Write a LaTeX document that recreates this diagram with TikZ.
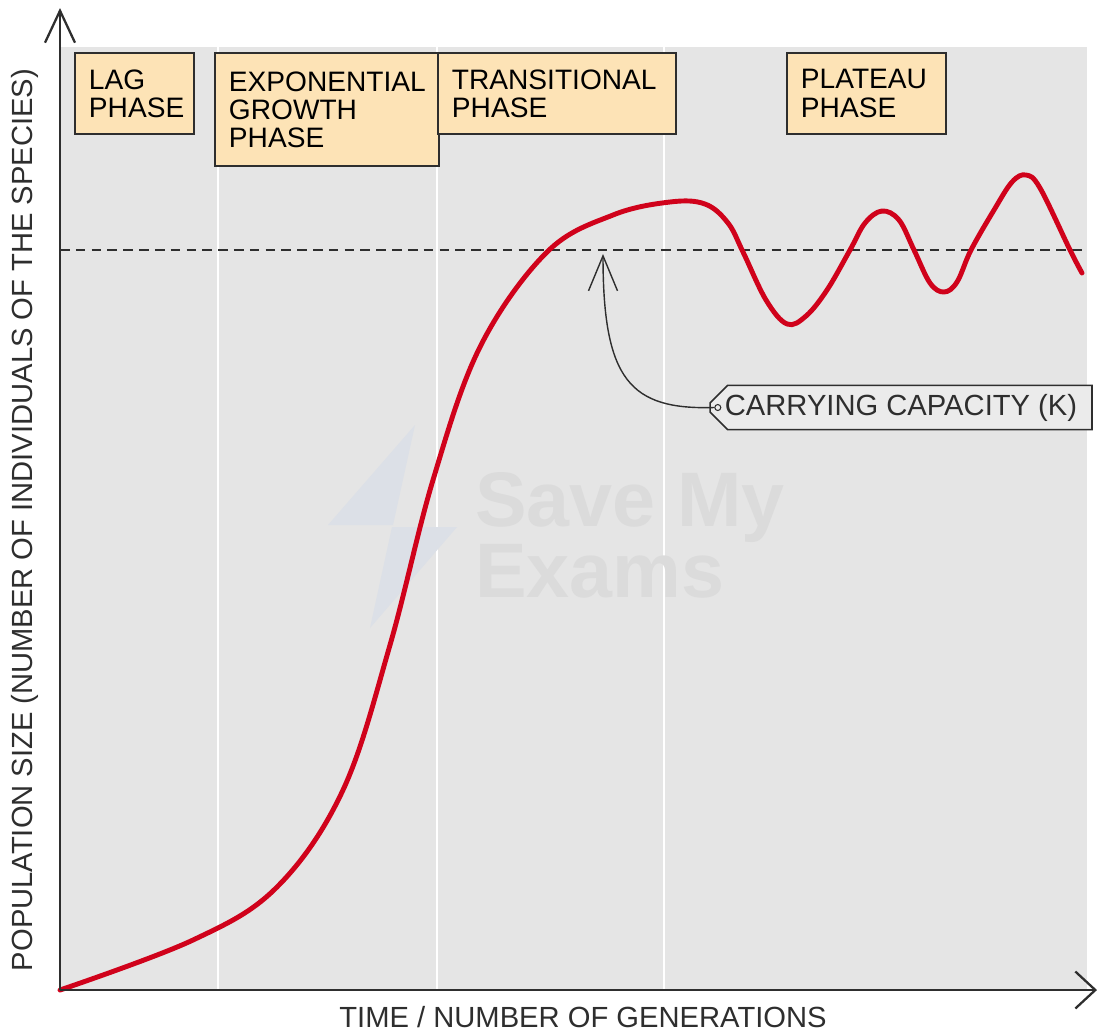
\documentclass[tikz,border=0pt]{standalone}
\usepackage{fontspec}
\setmainfont{Liberation Sans}
\usetikzlibrary{arrows.meta, positioning, shapes.misc}

\definecolor{peach}{HTML}{FDE3B6}
\definecolor{plotgrey}{HTML}{E5E5E5}
\definecolor{inkgrey}{HTML}{2E2E2E}
\definecolor{curvered}{HTML}{D0021B}
\definecolor{tagfill}{HTML}{EBEBEB}
\definecolor{wmtext}{HTML}{DBDBDB}
\definecolor{wmbolt}{HTML}{DCE0E7}

\begin{document}
\begin{tikzpicture}[x=0.02cm, y=-0.02cm,
  phase/.style={draw=inkgrey, fill=peach, line width=1.1pt, anchor=north west, align=left, inner xsep=0.28cm, minimum height=1.62cm, font=\fontsize{16}{16}\selectfont},
  axis/.style={inkgrey, line width=1.3pt},
  lbl/.style={text=inkgrey, font=\fontsize{16.6}{16}\selectfont},
  wm/.style={text=wmtext, inner sep=0pt, align=left, font=\fontsize{44}{39}\selectfont\bfseries},
  tag/.style={draw=inkgrey, fill=tagfill, line width=0.9pt, chamfered rectangle, chamfered rectangle corners={north west, south west}, chamfered rectangle xsep=0.18cm, chamfered rectangle ysep=0.17cm, inner ysep=0pt, minimum width=7.62cm, minimum height=0.4cm, text=inkgrey, font=\fontsize{16.6}{16}\selectfont}]

\useasboundingbox (0,0) rectangle (1097,1032);
\fill[plotgrey] (60,47) rectangle (1087,990);
\foreach \x in {218,437,664} \draw[white, line width=1pt] (\x,47) -- (\x,990);

\fill[wmbolt] (415,425) -- (328,525) -- (393,525) -- cycle (392,527) -- (457,527) -- (370,628) -- cycle;
\node[wm, anchor=north west] (wm) at (475,472) {Save My\\Exams};

\coordinate (O) at (60,990);
\coordinate (ytop) at (60,8);
\coordinate (xend) at (1097,990);
\coordinate (K0) at (60,250);
\coordinate (K1) at (1087,250);
\draw[inkgrey, line width=1.6pt, dash pattern=on 5.5pt off 3.5pt] (K0) -- (K1);

\draw[curvered, line width=2.8pt, line cap=round, line join=round] plot[smooth, tension=0.6] coordinates {
  (60,990) (193,940) (277,887) (343,790) (390,645) (433,480) (480,347) (547,252) (613,215) (670,202) (705,204) (728,223) (743,252) (766,300) (787,324) (806,316) (827,290) (850,250) (865,223) (882,211) (899,220) (914,250) (930,283) (944,292) (957,282) (971,250) (994,210) (1012,182) (1026,175) (1040,188) (1070,250) (1082,273)};

\node[phase, text width=1.82cm] (lag) at (74,52) {LAG\\PHASE};
\node[phase, text width=3.92cm, minimum height=2.26cm] (expo) at (214,52) {EXPONENTIAL\\GROWTH\\PHASE};
\node[phase, text width=4.2cm] (trans) at (437,52) {TRANSITIONAL\\PHASE};
\node[phase, text width=2.62cm] (plat) at (786,52) {PLATEAU\\PHASE};

\draw[axis, -{Straight Barb[length=0.64cm, width=0.6cm]}] (O) -- (ytop);
\draw[axis, -{Straight Barb[length=0.4cm, width=0.74cm]}] (O) -- (xend);

\node[tag] (K) at (901,407.5) {CARRYING CAPACITY (K)};
\node[draw=inkgrey, circle, inner sep=0pt, minimum size=0.12cm, line width=0.6pt, right=0.1cm of K.west] (hole) {};
\coordinate (Ktip) at (603,254);
\draw[inkgrey, line width=0.8pt, -{Straight Barb[length=0.7cm, width=0.58cm]}] (hole.west) .. controls (630,410) and (603,380) .. (Ktip);

\node[lbl, rotate=90, anchor=base] (ylab) at (32,520) {POPULATION SIZE (NUMBER OF INDIVIDUALS OF THE SPECIES)};
\node[lbl, anchor=base] (xlab) at (583,1027) {TIME / NUMBER OF GENERATIONS};
\end{tikzpicture}
\end{document}
